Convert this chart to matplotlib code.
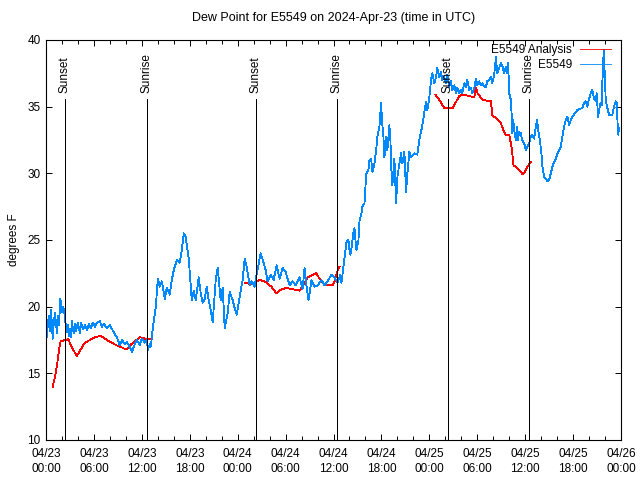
import matplotlib
matplotlib.use("Agg")
import matplotlib.pyplot as plt
import matplotlib.dates as mdates
import numpy as np
import pandas as pd

# time axis starts 2024-04-23 00:00 UTC, all times below are hours after that
start = pd.Timestamp("2024-04-23 00:00")

# E5549 observed dew point (hours, degF)
obs_hours = [0.09, 0.25, 0.375, 0.5, 0.625, 0.84, 1.0, 1.125, 1.375, 1.5, 1.625, 1.79, 2.0, 2.125,
             2.25, 2.5, 2.625, 2.75, 2.875, 3.0, 3.125, 3.25, 3.375, 3.5, 3.625, 3.75, 4.0, 4.25,
             4.375, 4.625, 4.875, 5.125, 5.375, 5.625, 5.875, 6.125, 6.375, 6.75, 7.0, 7.25, 7.625,
             8.0, 8.375, 8.625, 8.875, 9.25, 9.5, 9.875, 10.125, 10.5, 10.75, 11.125, 11.375, 11.75,
             12.0, 12.375, 12.625, 12.75, 13.0, 13.125, 13.375, 13.75, 14.0, 14.25, 14.5, 14.875,
             15.125, 15.5, 15.75, 16.0, 16.375, 16.75, 17.0, 17.25, 17.5, 17.875, 18.25, 18.5, 18.75,
             19.125, 19.375, 19.625, 19.875, 20.125, 20.375, 20.625, 20.875, 21.25, 21.5, 21.875,
             22.125, 22.375, 22.75, 23.0, 23.375, 23.625, 23.875, 24.25, 24.625, 24.875, 25.125,
             25.5, 25.75, 26.125, 26.375, 26.875, 27.25, 27.5, 27.75, 28.125, 28.5, 28.875, 29.25,
             29.625, 30.0, 30.5, 30.875, 31.25, 31.75, 32.125, 32.375, 32.625, 32.875, 33.25, 33.625,
             34.0, 34.5, 34.875, 35.25, 35.75, 36.125, 36.5, 36.875, 37.0, 37.125, 37.375, 37.5,
             37.625, 37.875, 38.0, 38.125, 38.25, 38.375, 38.5, 38.625, 38.75, 38.875, 39.125, 39.25,
             39.5, 39.625, 39.875, 40.0, 40.125, 40.375, 40.5, 40.71, 40.875, 41.125, 41.34, 41.5,
             41.75, 41.96, 42.09, 42.25, 42.375, 42.59, 42.75, 43.0, 43.125, 43.25, 43.375, 43.625,
             43.84, 44.0, 44.25, 44.46, 44.625, 44.875, 45.09, 45.25, 45.5, 45.71, 46.125, 46.5,
             46.75, 47.125, 47.375, 47.59, 47.75, 48.0, 48.21, 48.375, 48.625, 48.84, 49.0, 49.25,
             49.46, 49.625, 49.875, 50.09, 50.25, 50.5, 50.71, 50.875, 51.125, 51.34, 51.5, 51.75,
             51.96, 52.125, 52.375, 52.59, 52.75, 53.0, 53.21, 53.375, 53.625, 53.84, 54.0, 54.25,
             54.46, 54.625, 54.875, 55.09, 55.25, 55.5, 55.71, 55.875, 56.125, 56.34, 56.5, 56.75,
             56.96, 57.125, 57.375, 57.59, 57.75, 57.875, 58.0, 58.21, 58.34, 58.375, 58.5, 58.625,
             58.84, 58.96, 59.09, 59.25, 59.46, 59.625, 59.875, 60.09, 60.25, 60.5, 60.71, 60.875,
             61.125, 61.34, 61.5, 61.625, 61.84, 62.04, 62.16, 62.375, 62.59, 62.79, 63.0, 63.21,
             63.41, 63.625, 63.84, 64.04, 64.25, 64.46, 64.66, 64.875, 65.09, 65.29, 65.5, 65.71,
             65.91, 66.34, 66.54, 66.75, 67.16, 67.375, 67.59, 67.79, 68.0, 68.21, 68.41, 68.625,
             68.84, 68.96, 69.125, 69.34, 69.46, 69.59, 69.66, 69.84, 69.96, 70.09, 70.29, 70.5,
             70.71, 70.91, 71.125, 71.34, 71.46, 71.59, 71.66, 71.75]
obs_dewpt = [17.75, 18.8, 19.3, 18.2, 19.75, 17.6, 19.0, 19.5, 18.0, 19.3, 18.6, 20.6, 19.6, 20.0,
             19.75, 18.5, 18.1, 18.6, 17.8, 18.3, 17.7, 18.9, 18.3, 18.0, 18.7, 18.2, 18.8, 18.0,
             18.8, 18.3, 18.6, 18.25, 18.7, 18.4, 18.8, 18.5, 18.8, 18.9, 18.5, 18.7, 18.4,
             18.6, 18.2, 17.9, 17.7, 17.1, 17.5, 17.2, 17.35, 17.0, 16.6, 17.2, 17.5, 17.1,
             17.6, 17.3, 17.5, 16.75, 17.2, 17.0, 18.4, 20.0, 22.1, 21.5, 21.9, 20.6,
             21.4, 20.9, 22.0, 22.75, 23.5, 23.3, 24.25, 25.5, 25.2, 23.6, 20.5, 21.2, 20.5,
             22.2, 21.0, 20.3, 20.6, 21.5, 20.5, 19.75, 18.85, 22.0, 22.9, 20.5,
             21.4, 18.4, 19.5, 21.1, 20.5, 19.9, 19.4, 20.75, 22.0, 23.6, 23.0,
             21.6, 21.9, 21.5, 22.4, 24.0, 23.3, 22.75, 21.9, 22.4, 22.0, 23.1, 22.1,
             22.9, 22.6, 21.6, 21.9, 21.6, 22.2, 21.3, 22.9, 21.5, 20.5, 22.0, 21.5,
             21.6, 22.0, 21.6, 21.9, 22.4, 22.2, 21.8, 22.4, 21.8, 22.4, 23.6, 24.25,
             24.85, 25.0, 24.25, 23.9, 24.4, 25.0, 25.6, 25.9, 25.0, 24.25, 25.0, 26.4,
             27.0, 27.5, 27.75, 29.0, 30.0, 30.25, 31.0, 31.1, 30.1, 30.75, 31.75, 32.75,
             33.5, 35.3, 33.8, 32.75, 31.2, 32.75, 31.75, 33.6, 32.5, 30.25, 29.1, 31.1,
             27.75, 29.7, 30.75, 31.5, 30.75, 31.6, 28.6, 30.0, 31.6, 31.25, 31.5, 31.4,
             32.5, 33.6, 34.6, 35.35, 34.75, 35.7, 37.0, 37.5, 36.75, 37.2, 37.9, 37.2,
             37.6, 37.0, 37.2, 36.75, 37.4, 36.5, 36.9, 36.25, 36.6, 36.0, 36.4, 36.0,
             36.25, 36.0, 36.75, 36.5, 37.0, 36.25, 36.4, 36.0, 36.4, 37.1, 36.6, 36.9,
             36.6, 36.75, 36.5, 36.5, 36.9, 37.0, 37.2, 36.75, 37.4, 38.7, 37.5, 37.9,
             38.25, 38.1, 37.5, 38.0, 37.5, 38.25, 36.0, 35.5, 34.0, 33.0, 34.0, 33.25,
             32.5, 33.5, 32.5, 33.1, 33.0, 32.5, 32.25, 31.75, 32.0, 32.25, 32.75, 32.9,
             32.6, 33.5, 34.0, 33.25, 32.5, 31.5, 30.5, 29.75, 29.6, 29.4, 29.5, 30.0,
             30.5, 30.85, 31.1, 31.5, 31.75, 32.0, 32.75, 33.5, 34.0, 34.25, 33.6, 34.0,
             34.25, 34.6, 34.75, 34.8, 34.9, 35.3, 35.4, 35.0, 35.6, 36.0, 36.25, 35.6,
             35.4, 36.0, 34.25, 35.0, 35.3, 35.1, 36.75, 39.25, 37.5, 35.5, 34.9, 34.4,
             34.4, 34.4, 35.0, 35.4, 35.3, 33.5, 32.9, 33.4]

# E5549 analysis (NaN = no analysis available)
ana_hours = [0.84, 1.125, 1.41, 1.625, 1.84, 2.375, 2.79, 3.21, 3.84, 4.46, 4.875, 5.5, 6.125,
             6.75, 7.16, 7.79, 8.21, 8.84, 9.46, 10.0, 10.29, 10.71, 11.34, 11.75, 12.16, 12.59,
             13.125, 19.0,
             24.875, 25.5, 26.125, 26.75, 27.375, 28.21, 28.84, 29.46, 30.09, 30.91, 31.75, 32.16,
             32.79, 33.41, 33.84, 34.25, 34.66, 35.09, 35.91, 36.125, 36.34, 36.54, 36.75, 42.0,
             48.75, 49.25, 49.875, 50.91, 51.75, 52.16, 53.0, 53.625, 53.84, 54.04, 54.66, 55.71,
             55.91, 56.34, 56.96, 57.375, 57.59, 58.0, 58.21, 58.34, 58.54, 58.84, 59.25, 59.66,
             59.875, 60.29, 60.71]
ana_dewpt = [14.0, 14.75, 15.75, 16.75, 17.4, 17.5, 17.55, 17.0, 16.3, 16.9, 17.3, 17.5, 17.7,
             17.8, 17.7, 17.45, 17.3, 17.1, 16.95, 16.8, 16.9, 17.2, 17.5, 17.7, 17.65, 17.55,
             17.55, np.nan,
             21.8, 21.7, 21.8, 22.0, 21.9, 21.5, 21.0, 21.3, 21.4, 21.3, 21.2, 21.6,
             22.2, 22.4, 22.5, 22.1, 21.8, 21.6, 21.6, 21.9, 22.4, 22.75, 23.0, np.nan,
             35.9, 35.5, 34.9, 34.9, 35.8, 35.9, 35.8, 35.7, 36.4, 36.0, 35.5, 35.4,
             34.3, 34.15, 33.75, 33.1, 32.9, 32.9, 32.25, 31.75, 30.6, 30.5, 30.25, 29.95,
             30.0, 30.5, 30.85]

sun_events = ["Sunset", "Sunrise", "Sunset", "Sunrise", "Sunset", "Sunrise"]
sun_hours = [2.37, 12.59, 26.27, 36.42, 50.29, 60.42]

plt.rcParams['font.family'] = ['Liberation Sans', 'DejaVu Sans']
plt.rcParams['font.size'] = 8.5

obs_t = start + pd.to_timedelta(obs_hours, unit='h')
ana_t = start + pd.to_timedelta(ana_hours, unit='h')
sun_t = start + pd.to_timedelta(sun_hours, unit='h')

fig = plt.figure(figsize=(6.4, 4.8), dpi=100)
ax = fig.add_axes([46 / 640, 40 / 480, 575 / 640, 400 / 480])

ax.plot(ana_t, ana_dewpt, color='#ff0000', lw=0.6, label='E5549 Analysis', antialiased=False)
ax.plot(obs_t, obs_dewpt, color='#0088ff', lw=0.6, label='E5549', antialiased=False)

for name, t in zip(sun_events, sun_t):
    ax.vlines(t, 10, 35.6, color='black', lw=0.6, zorder=3, antialiased=False)
    ax.text(t, 36.0, name, rotation=90, ha='center', va='bottom')

ax.set_xlim(start, start + pd.Timedelta(hours=72))
ax.set_ylim(10, 40)
ax.set_yticks(np.arange(10, 41, 5))
ax.xaxis.set_major_locator(mdates.HourLocator(byhour=range(0, 24, 6)))
ax.xaxis.set_minor_locator(mdates.HourLocator(byhour=range(0, 24, 2)))
ax.xaxis.set_major_formatter(mdates.DateFormatter('%m/%d\n%H:%M'))
ax.tick_params(which='both', direction='in', top=True, right=True, width=0.7)
ax.tick_params(which='major', length=4)
ax.tick_params(which='minor', length=3)
ax.tick_params(axis='x', which='major', pad=6)
ax.tick_params(axis='y', which='major', pad=4)
for lbl in ax.get_xticklabels():
    lbl.set_linespacing(1.35)
for s in ax.spines.values():
    s.set_linewidth(0.8)

ax.set_ylabel('degrees F', labelpad=5)
ax.set_title('Dew Point for E5549 on 2024-Apr-23 (time in UTC)', fontsize=9, pad=14)

ax.legend(loc='upper right', bbox_to_anchor=(611 / 640, 1 - 44.5 / 480), bbox_transform=fig.transFigure,
          frameon=False, markerfirst=False, handlelength=2.6, handletextpad=0.7,
          borderpad=0, borderaxespad=0, labelspacing=0.25)

fig.savefig('out.png', dpi=100)
